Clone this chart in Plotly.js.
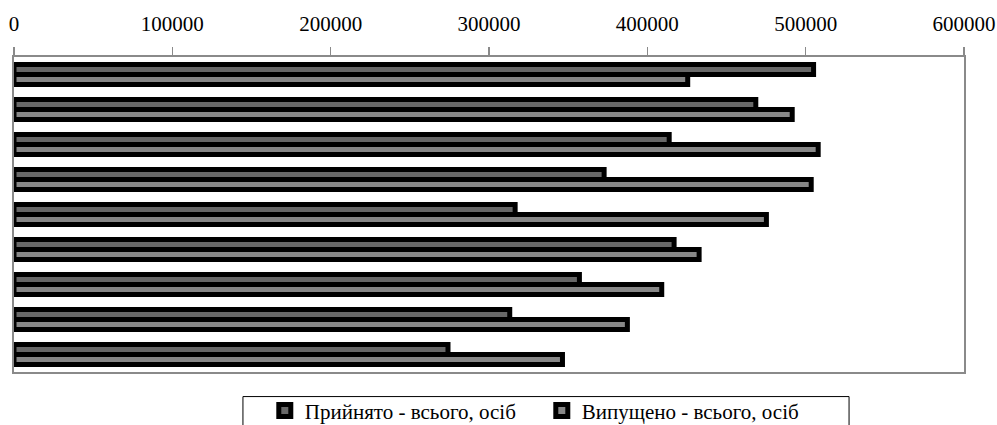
<!DOCTYPE html>
<html>
<head>
<meta charset="utf-8">
<script src="https://cdn.plot.ly/plotly-3.0.1.min.js"></script>
<style>html,body{margin:0;padding:0;background:#fff;}#chart{width:997px;height:425px;}</style>
</head>
<body>
<div id="chart"></div>
<script>
// Categories (top to bottom); the original chart shows no category labels
const categories = ["1", "2", "3", "4", "5", "6", "7", "8", "9"];
const seriesNames = ["Прийнято - всього, осіб", "Випущено - всього, осіб"];
const admitted = [505000, 468500, 413800, 372700, 316500, 416900, 357100, 313100, 274100];
const released = [425500, 491500, 507900, 503500, 475200, 432700, 409100, 387400, 346400];
const tickVals = [0, 100000, 200000, 300000, 400000, 500000, 600000];
const tickText = ["0", "100000", "200000", "300000", "400000", "500000", "600000"];

const font = "'Liberation Serif', 'Times New Roman', 'DejaVu Serif', serif";

const traces = [
  {type: "bar", orientation: "h", name: seriesNames[0], y: categories, x: admitted,
   marker: {color: "#686868", line: {color: "#000000", width: 5}}},
  {type: "bar", orientation: "h", name: seriesNames[1], y: categories, x: released,
   marker: {color: "#878787", line: {color: "#000000", width: 5}}}
];

const layout = {
  width: 997, height: 425,
  margin: {l: 14, r: 33, t: 57, b: 52.5, pad: 0, autoexpand: false},
  paper_bgcolor: "#ffffff", plot_bgcolor: "#ffffff",
  font: {family: font, size: 21, color: "#000000"},
  barmode: "group", bargap: 0.43, bargroupgap: 0,
  showlegend: true,
  hovermode: false,
  xaxis: {
    side: "top", range: [0, 600000], tickvals: tickVals, ticktext: tickText,
    showgrid: false, zeroline: false, showline: true, linecolor: "#8a8a8a", linewidth: 2,
    mirror: true, ticks: "outside", ticklen: 8, tickcolor: "#8a8a8a", tickwidth: 1.5,
    ticklabelstandoff: 8,
    tickfont: {family: font, size: 21, color: "#000000"}
  },
  yaxis: {
    autorange: "reversed", type: "category", showticklabels: false, ticks: "",
    showgrid: false, zeroline: false, showline: true, linecolor: "#8a8a8a", linewidth: 2, mirror: true
  },
  legend: {
    orientation: "h", x: 0.264, xanchor: "left", y: -0.058, yanchor: "top",
    entrywidth: 232, entrywidthmode: "pixels", borderwidth: 0, bgcolor: "rgba(0,0,0,0)",
    font: {family: font, size: 21, color: "#000000"}, traceorder: "normal"
  },
  shapes: [{type: "rect", xref: "paper", yref: "paper", x0: 0.241, x1: 0.879, y0: -0.0780, y1: -0.3,
            line: {color: "#000000", width: 1}, fillcolor: "rgba(0,0,0,0)", layer: "below"}]
};

Plotly.newPlot("chart", traces, layout, {displayModeBar: false, staticPlot: true});
</script>
</body>
</html>
